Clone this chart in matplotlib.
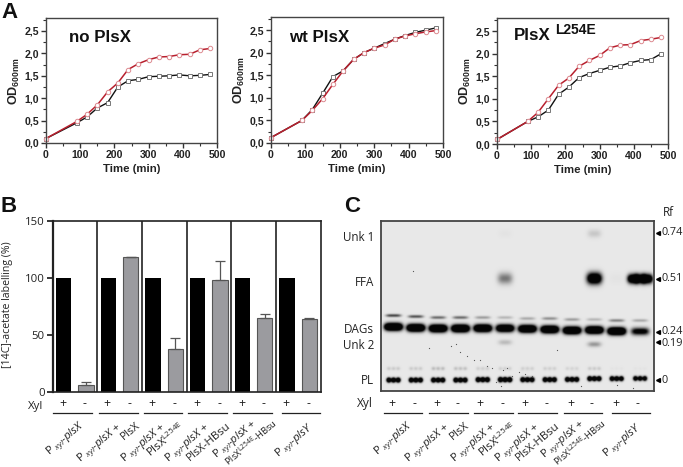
import numpy as np
import matplotlib
matplotlib.use("Agg")
import matplotlib.pyplot as plt

plt.rcParams["font.family"] = ["Open Sans", "DejaVu Sans"]
plt.rcParams["mathtext.fontset"] = "custom"
plt.rcParams["mathtext.rm"] = "Open Sans"
plt.rcParams["mathtext.it"] = "Open Sans:italic"
plt.rcParams["mathtext.bf"] = "Liberation Sans:bold"

# panel A
times = [0, 90, 120, 150, 180, 210, 240, 270, 300, 330, 360, 390, 420, 450, 480]
noplsx_black = [.1, .45, .58, .78, .9, 1.25, 1.39, 1.42, 1.48, 1.49, 1.5, 1.52, 1.5, 1.51, 1.53]
noplsx_red = [.1, .48, .64, .85, 1.14, 1.34, 1.64, 1.77, 1.86, 1.92, 1.93, 1.97, 1.98, 2.08, 2.11]
wt_black = [.12, .5, .74, 1.1, 1.47, 1.6, 1.85, 2.0, 2.1, 2.2, 2.3, 2.38, 2.45, 2.5, 2.55]
wt_red = [.12, .5, .72, .98, 1.3, 1.6, 1.85, 2.0, 2.1, 2.17, 2.3, 2.37, 2.42, 2.46, 2.49]
mut_black = [.1, .5, .6, .75, 1.1, 1.26, 1.47, 1.56, 1.63, 1.7, 1.73, 1.8, 1.85, 1.87, 2.0]
mut_red = [.1, .5, .7, 1.0, 1.3, 1.46, 1.72, 1.85, 1.96, 2.13, 2.19, 2.2, 2.29, 2.32, 2.36]
od_ticks = [0, .5, 1, 1.5, 2, 2.5]
od_labels = ["0,0", "0,5", "1,0", "1,5", "2,0", "2,5"]

# panel B
black_vals = [100, 100, 100, 100, 100, 100]
gray_vals = [6, 118, 38, 98, 65, 64]
gray_err = [3, 0.5, 9, 17, 3, 0.5]

# panel C, one entry per lane
lane_x = [0, 1, 2, 3, 4, 5, 6, 7, 8, 9, 10, 11.05]
upper_rf = [.325, .32, .315, .315, .315, .315, .31, .31, .305, .305, .3, .3]
upper_amp = [.65, .6, .5, .5, .3, .2, .25, .35, .3, .2, .4, .25]
dag_rf = [.268, .263, .26, .26, .261, .261, .258, .255, .25, .252, .246, .245]
dag_amp = [2.2, 2.2, 2.2, 2.2, 2.1, 1.9, 2.1, 2.1, 2.1, 2.1, 2.2, 1.1]
pl_rf = [0, 0, 0, 0, .002, .002, .002, .002, .003, .007, .007, .008]
pl_amp = [2.4, 2.4, 2.4, 2.4, 2.6, 2.8, 2.4, 2.4, 2.4, 2.4, 2.2, 1.9]
faint_amp = [.12, .12, .18, .16, .1, .1, .1, .1, .08, .12, .02, .02]
ffa_amp = [0, 0, 0, 0, 0, .45, 0, 0, 0, 1.6, .02, 0]
unk2_amp = [0, 0, 0, 0, 0, .18, 0, 0, 0, .32, 0, 0]
unk1_amp = [0, 0, 0, 0, 0, .02, 0, 0, 0, .13, 0, 0]
plsy_ffa_x = [10.75, 11.05, 11.35]
plsy_ffa_amp = [1.7, 1.1, 1.7]
speck_x = [.9, 1.6, 2.6, 2.8, 3.0, 3.3, 3.6, 3.9, 4.2, 4.4, 4.6, 4.8, 4.9, 5.1, 5.3, 5.6, 5.9, 6.2, 8.4, 10.0, 7.3, 10.7]
speck_rf = [.55, .16, .17, .18, .14, .12, .1, .1, .07, .06, -.01, -.03, .05, .06, .02, .04, .03, .02, -.03, -.025, .15, -.04]
rf_marks = [.74, .51, .24, .19, 0]
rf_labels = ["0.74", "0.51", "0.24", "0.19", "0"]
spot_names = ["Unk 1", "FFA", "DAGs", "Unk 2", "PL"]
spot_rf = [.715, .49, .255, .175, 0]

xyl_signs = ["+", "-"] * 6

W, H = 683, 467


def add_ax(left, top, right, bottom):
    return fig.add_axes([left / W, 1 - bottom / H, (right - left) / W, (bottom - top) / H])


def put(x, y, s, **kw):
    kw.setdefault("ha", "center")
    kw.setdefault("va", "center")
    return fig.text(x / W, 1 - y / H, s, **kw)


def slanted(x, y, s, size=8.2):
    # anchored at the top right end of the slanted label
    put(x, y, s, ha="right", va="top", rotation=40, rotation_mode="anchor", fontsize=size, color="#222222")


def growth_panel(box, black, red, title, title_xy):
    ax = add_ax(*box)
    ax.plot(times, black, color="#111111", lw=1, marker="s", ms=3, mfc="white", mec="#777777", mew=0.7, clip_on=False)
    ax.plot(times, red, color="#b8202e", lw=1.1, marker="o", ms=3.2, mfc="white", mec="#dd8a90", mew=0.7, clip_on=False)
    ax.set_xlim(0, 500)
    ax.set_ylim(0, 2.79)
    ax.set_xticks(range(0, 501, 100))
    ax.set_xticks(range(50, 500, 100), minor=True)
    ax.set_yticks(od_ticks)
    ax.set_yticklabels(od_labels)
    ax.set_yticks(np.arange(.25, 2.76, .5), minor=True)
    ax.tick_params(which="major", length=3.5, width=1, color="#333333", pad=1.5)
    ax.tick_params(which="minor", length=2, width=.8, color="#333333")
    for lab in ax.get_xticklabels() + ax.get_yticklabels():
        lab.set_fontfamily("Liberation Sans")
        lab.set_fontweight("bold")
        lab.set_fontsize(7.6)
        lab.set_color("#222222")
    for sp in ax.spines.values():
        sp.set_color("#444444")
        sp.set_linewidth(1)
    ax.set_xlabel("Time (min)", fontsize=8.2, fontweight="bold", family="Liberation Sans", labelpad=3, color="#222222")
    ax.set_ylabel(r"$\mathbf{OD_{600nm}}$", fontsize=9, labelpad=1.5, color="#222222")
    put(title_xy[0], title_xy[1], title, fontsize=12.2, fontweight="bold", family="Liberation Sans", ha="left", color="#111111")
    return ax


fig = plt.figure(figsize=(W / 100, H / 100), dpi=100)

for letter, x, y in [("A", 9, 13), ("B", 9, 207), ("C", 352, 207)]:
    put(x, y, letter, fontsize=16, fontweight="bold", family="Liberation Sans", color="#111111")

growth_panel((46, 18, 217, 143), noplsx_black, noplsx_red, "no PlsX", (69, 37))
growth_panel((271, 17, 443, 143), wt_black, wt_red, "wt PlsX", (289, 37))
growth_panel((497, 18, 668, 144), mut_black, mut_red, "PlsX", (514, 36))
put(555, 30, "L254E", fontsize=10, fontweight="bold", family="Liberation Sans", ha="left", color="#111111")

# panel B
axb = add_ax(53, 221, 321, 392)
pos_black = np.arange(6) * 2
pos_gray = pos_black + 1
axb.bar(pos_black, black_vals, width=.69, color="black")
axb.bar(pos_gray, gray_vals, width=.69, color="#9b9b9f", edgecolor="#555555", lw=.8,
        yerr=[np.zeros(6), gray_err], ecolor="#555555", error_kw=dict(lw=.9, capsize=3.5, capthick=.9))
for g in range(1, 6):
    axb.axvline(2 * g - .5, color="#222222", lw=1.2)
axb.set_xlim(-.48, 11.52)
axb.set_ylim(0, 150)
axb.set_xticks([])
axb.set_yticks([0, 50, 100, 150])
axb.tick_params(axis="y", length=4, width=1.1, labelsize=8.2, pad=2, labelcolor="#222222")
for sp in axb.spines.values():
    sp.set_linewidth(1.2)
    sp.set_color("#222222")
axb.spines["left"].set_linewidth(1.6)
put(8, 305, "[14C]-acetate labelling (%)", rotation=90, fontsize=7.6, color="#222222")

put(36, 406, "Xyl", fontsize=8.2, color="#222222")
for x, s in zip([63, 85, 107, 130, 152, 175, 197, 220, 242, 264, 286, 309], xyl_signs):
    put(x, 404, s, fontsize=8.8, color="#222222")
for x0, x1 in [(53, 92), (99, 138), (144, 182), (188, 227), (233, 272), (282, 320)]:
    fig.add_artist(plt.Line2D([x0 / W, x1 / W], [1 - 413 / H] * 2, color="#222222", lw=.9))

b_labels = [
    (79, 418, r"P $_{xyl}$-$plsX$", 8.2),
    (116, 420, r"P $_{xyl}$-$plsX$ +", 8.2),
    (135, 420, "PlsX", 8.2),
    (160, 420, r"P $_{xyl}$-$plsX$ +", 8.2),
    (179, 420, r"PlsX$^{\mathrm{L254E}}$", 8.2),
    (204, 420, r"P $_{xyl}$-$plsX$ +", 8.2),
    (226, 420, "PlsX-HBsu", 8.2),
    (251, 417, r"P $_{xyl}$-$plsX$ +", 8.0),
    (272, 417, r"PlsX$^{\mathrm{L254E}}$-HBsu", 6.8),
    (308, 420, r"P $_{xyl}$-$plsY$", 8.2),
]
for x, y, s, size in b_labels:
    slanted(x, y, s, size)

# panel C, the blot is built from the band values above
axc = add_ax(381, 221, 654, 391)
xx = np.linspace(-.55, 11.66, 546)
yy = np.linspace(-.054, .8, 340)
gx, gy = np.meshgrid(xx, yy)
dens = np.zeros_like(gx)


def band(x0, rf, amp, wx, wy, p=2):
    global dens
    dens = dens + amp * np.exp(-np.abs((gx - x0) / wx) ** p - ((gy - rf) / wy) ** 2)


for i, x0 in enumerate(lane_x):
    band(x0, upper_rf[i], upper_amp[i], .34, .0075, 4)
    band(x0, dag_rf[i], dag_amp[i], .4, .018, 4)
    for dx in (-.21, 0, .21):
        band(x0 + dx, pl_rf[i], pl_amp[i], .09, .0105)
        band(x0 + dx, .058, faint_amp[i], .09, .009)
    band(x0, .512, ffa_amp[i], .33, .028, 3)
    band(x0, .19 if i == 5 else .18, unk2_amp[i], .3, .013, 3)
    band(x0, .738, unk1_amp[i], .3, .02, 3)
for x0, a in zip(plsy_ffa_x, plsy_ffa_amp):
    band(x0, .51, a, .26, .022, 3)

axc.imshow(np.clip(.91 - dens, .02, 1), extent=(-.55, 11.66, -.054, .8), origin="lower", aspect="auto",
           cmap="gray", vmin=0, vmax=1, interpolation="bilinear")
axc.scatter(speck_x, speck_rf, s=.8, color="#555555", lw=0)
axc.set_xticks([])
axc.set_yticks([])
for sp in axc.spines.values():
    sp.set_color("#444444")
    sp.set_linewidth(1.3)
axc.set_xlim(-.55, 11.66)
axc.set_ylim(-.054, .8)
axc.plot([11.86] * len(rf_marks), rf_marks, ls="", marker="<", ms=2.8, color="black", clip_on=False)
for rf, s in zip(rf_marks, rf_labels):
    # 0.24 and 0.19 sit close together, so the lower one is nudged down a little
    axc.text(11.98, rf - .006 if s == "0.19" else rf + .004 if s == "0.24" else rf, s, fontsize=7.8,
             va="center", ha="left", color="#222222", clip_on=False)
for rf, s in zip(spot_rf, spot_names):
    axc.text(-.85, rf, s, fontsize=8.4, va="center", ha="right", color="#222222", clip_on=False)
put(668, 212, "Rf", fontsize=8.4, color="#222222")

put(365, 404, "Xyl", fontsize=8.6, color="#222222")
for x, s in zip([392, 415, 437, 458, 480, 503, 525, 547, 571, 592, 616, 638], xyl_signs):
    put(x, 404, s, fontsize=8.8, color="#222222")
for x0, x1 in [(384, 422), (429, 468), (474, 513), (518, 557), (564, 602), (612, 650)]:
    fig.add_artist(plt.Line2D([x0 / W, x1 / W], [1 - 413 / H] * 2, color="#222222", lw=.9))

c_labels = [
    (407, 418, r"P $_{xyl}$-$plsX$", 8.2),
    (444, 420, r"P $_{xyl}$-$plsX$ +", 8.2),
    (464, 420, "PlsX", 8.2),
    (490, 420, r"P $_{xyl}$-$plsX$ +", 8.2),
    (511, 420, r"PlsX$^{\mathrm{L254E}}$", 8.2),
    (534, 420, r"P $_{xyl}$-$plsX$ +", 8.2),
    (555, 420, "PlsX-HBsu", 8.2),
    (579, 417, r"P $_{xyl}$-$plsX$ +", 8.0),
    (601, 417, r"PlsX$^{\mathrm{L254E}}$-HBsu", 6.8),
    (636, 420, r"P $_{xyl}$-$plsY$", 8.2),
]
for x, y, s, size in c_labels:
    slanted(x, y, s, size)

fig.savefig("out.png", dpi=100)
